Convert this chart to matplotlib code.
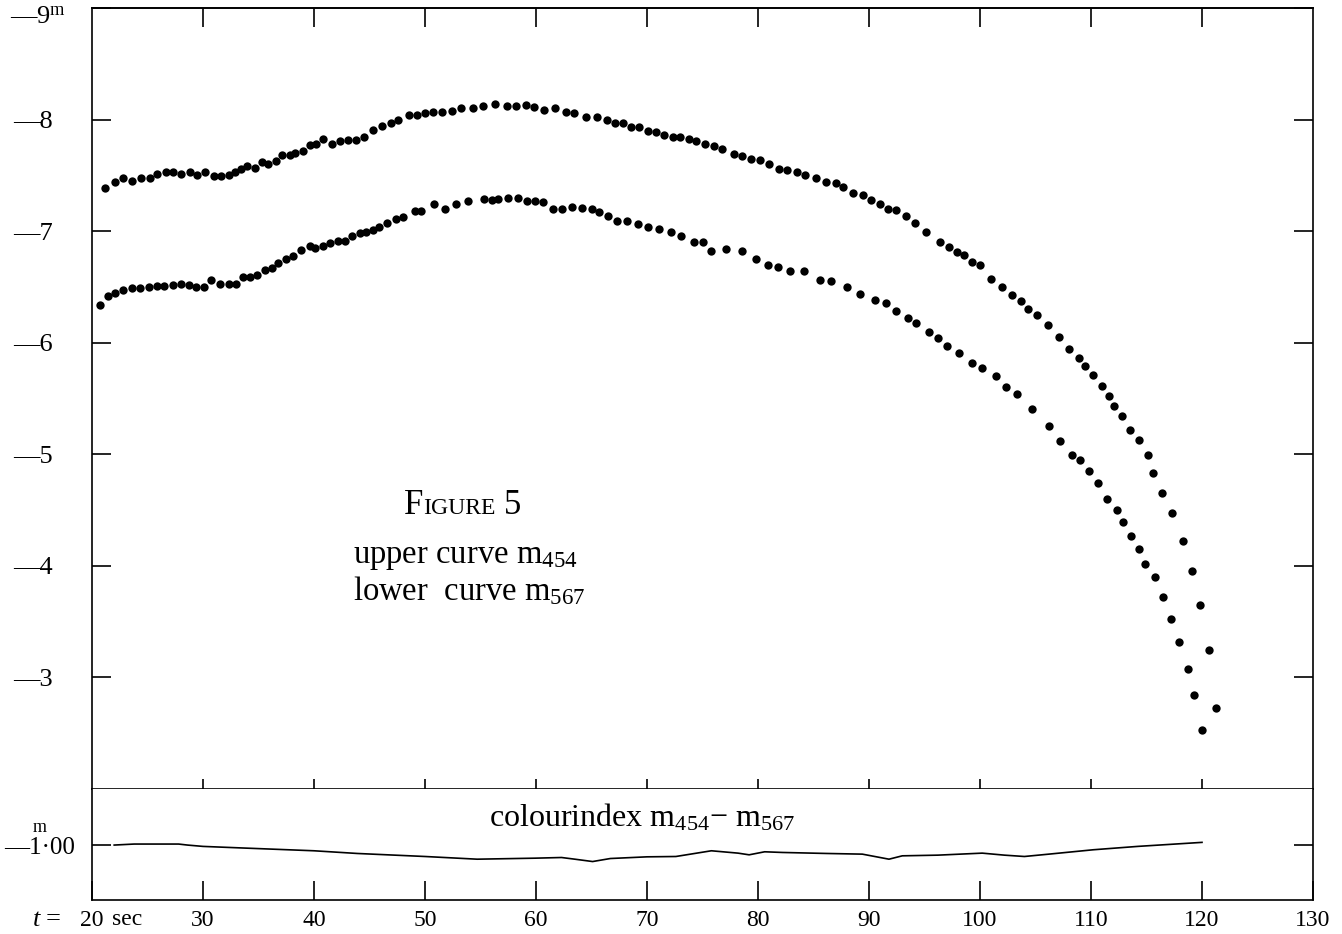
import numpy as np
import matplotlib
matplotlib.use("Agg")
import matplotlib.pyplot as plt

plt.rcParams['font.family'] = ['Liberation Serif', 'DejaVu Serif']
plt.rcParams['mathtext.fontset'] = 'custom'
plt.rcParams['mathtext.rm'] = 'Liberation Serif'
plt.rcParams['mathtext.it'] = 'Liberation Serif:italic'

#======================================= data ====================
# upper curve, m454 (time in sec, magnitude)
t_upper = [21.2, 22.1, 22.8, 23.6, 24.4, 25.2, 25.9, 26.7, 27.3, 28.0, 28.8, 29.5, 30.2,
           31.0, 31.6, 32.3, 32.9, 33.4, 34.0, 34.7, 35.3, 35.9, 36.6, 37.1, 37.8, 38.3,
           39.0, 39.6, 40.2, 40.8, 41.6, 42.3, 43.1, 43.8, 44.5, 45.3, 46.1, 46.9, 47.6,
           48.6, 49.3, 50.0, 50.7, 51.5, 52.4, 53.2, 54.3, 55.2, 56.3, 57.4, 58.2, 59.1,
           59.8, 60.7, 61.7, 62.7, 63.4, 64.5, 65.5, 66.4, 67.1, 67.8, 68.6, 69.3, 70.1,
           70.8, 71.5, 72.3, 73.0, 73.8, 74.4, 75.2, 76.0, 76.8, 77.8, 78.6, 79.4, 80.2,
           81.0, 81.9, 82.6, 83.5,
           84.2, 85.2, 86.1, 87.0, 87.7, 88.6, 89.5, 90.2, 91.0, 91.7, 92.4, 93.3, 94.1,
           95.1, 96.4, 97.2, 97.9, 98.6, 99.3, 100.0, 101.0, 102.0, 102.9, 103.7, 104.3,
           105.1, 106.1, 107.1, 108.0, 108.9, 109.5, 110.2, 111.0, 111.6, 112.1, 112.8,
           113.5, 114.3, 115.1, 115.6, 116.4, 117.3, 118.3, 119.1, 119.8, 120.6, 121.3]
m_upper = [-7.39, -7.44, -7.48, -7.45, -7.48, -7.48, -7.51, -7.53, -7.53, -7.51, -7.53, -7.50, -7.53,
           -7.49, -7.49, -7.50, -7.53, -7.56, -7.58, -7.57, -7.62, -7.60, -7.63, -7.68, -7.68, -7.70,
           -7.72, -7.77, -7.78, -7.83, -7.78, -7.81, -7.82, -7.82, -7.84, -7.91, -7.94, -7.97, -8.00,
           -8.04, -8.04, -8.06, -8.07, -8.07, -8.08, -8.10, -8.10, -8.12, -8.14, -8.12, -8.12, -8.13,
           -8.11, -8.09, -8.10, -8.07, -8.06, -8.02, -8.02, -8.00, -7.97, -7.97, -7.93, -7.93, -7.90,
           -7.89, -7.86, -7.84, -7.84, -7.83, -7.81, -7.78, -7.76, -7.74, -7.69, -7.67, -7.65, -7.64,
           -7.60, -7.56, -7.55, -7.53,
           -7.50, -7.48, -7.44, -7.43, -7.40, -7.34, -7.32, -7.28, -7.24, -7.20, -7.19, -7.14, -7.07,
           -6.99, -6.90, -6.86, -6.81, -6.79, -6.72, -6.70, -6.57, -6.50, -6.43, -6.37, -6.30,
           -6.25, -6.16, -6.05, -5.94, -5.86, -5.79, -5.71, -5.61, -5.52, -5.43, -5.34,
           -5.22, -5.13, -4.99, -4.83, -4.65, -4.47, -4.22, -3.95, -3.65, -3.25, -2.73]

# lower curve, m567
t_lower = [20.7, 21.4, 22.1, 22.8, 23.6, 24.3, 25.1, 25.9, 26.5, 27.3, 28.0, 28.7, 29.4,
           30.1, 30.7, 31.5, 32.3, 33.0, 33.6, 34.2, 34.9, 35.6, 36.2, 36.8, 37.5, 38.1,
           38.8, 39.6, 40.1, 40.8, 41.4, 42.2, 42.8, 43.4, 44.1, 44.7, 45.3,
           45.9, 46.6, 47.4, 48.0, 49.1, 49.6, 50.8, 51.8, 52.8, 53.9, 55.3, 56.0, 56.6,
           57.5, 58.4, 59.2, 59.9, 60.6, 61.5, 62.3, 63.2, 64.1, 65.0, 65.7, 66.5, 67.3,
           68.2, 69.2, 70.1, 71.1, 72.2, 73.1, 74.2, 75.0, 75.8, 77.1, 78.6, 79.8, 80.9,
           81.8, 82.9,
           84.1, 85.6, 86.6, 88.0, 89.2, 90.5, 91.5, 92.4, 93.5, 94.2, 95.4, 96.2, 97.0,
           98.1, 99.3, 100.2, 101.4, 102.3, 103.3,
           104.7, 106.2, 107.2, 108.3, 109.0, 109.8, 110.6, 111.4, 112.3, 112.9, 113.6,
           114.3, 114.9, 115.8, 116.5, 117.2, 117.9, 118.7, 119.3, 120.0]
m_lower = [-6.34, -6.42, -6.45, -6.47, -6.49, -6.49, -6.50, -6.51, -6.51, -6.52, -6.53, -6.52, -6.50,
           -6.50, -6.56, -6.53, -6.53, -6.53, -6.59, -6.59, -6.61, -6.65, -6.67, -6.71, -6.75, -6.78,
           -6.83, -6.87, -6.85, -6.87, -6.89, -6.91, -6.91, -6.96, -6.98, -6.99, -7.01,
           -7.04, -7.07, -7.11, -7.13, -7.18, -7.18, -7.24, -7.20, -7.24, -7.27, -7.29, -7.28, -7.29,
           -7.30, -7.30, -7.27, -7.27, -7.26, -7.20, -7.20, -7.22, -7.21, -7.20, -7.17, -7.14, -7.09,
           -7.09, -7.06, -7.04, -7.02, -6.99, -6.96, -6.90, -6.90, -6.82, -6.84, -6.82, -6.75, -6.70,
           -6.68, -6.64,
           -6.64, -6.56, -6.55, -6.50, -6.44, -6.38, -6.36, -6.28, -6.22, -6.18, -6.10, -6.04, -5.97,
           -5.91, -5.82, -5.77, -5.70, -5.60, -5.54,
           -5.41, -5.25, -5.12, -4.99, -4.95, -4.85, -4.74, -4.60, -4.50, -4.39, -4.27,
           -4.15, -4.02, -3.90, -3.72, -3.52, -3.32, -3.08, -2.84, -2.53]

# colour index m454 - m567
t_ci = [22.0, 23.8, 27.8, 28.6, 30.0, 33.8, 40.0, 43.9, 50.0, 54.7, 59.9, 62.3, 63.5, 65.1,
        66.7, 70.0, 72.6, 75.8, 78.2, 79.2, 80.6, 82.2, 86.2, 89.4, 91.8, 93.0, 96.2,
        100.2, 102.2, 104.0, 106.2, 110.2, 114.2, 120.0]
ci = [-1.000, -1.009, -1.009, -1.000, -0.988, -0.973, -0.949, -0.925, -0.898, -0.874, -0.883,
      -0.889, -0.874, -0.853, -0.880, -0.895, -0.898, -0.949, -0.928, -0.913, -0.940, -0.934,
      -0.925, -0.919, -0.874, -0.904, -0.910, -0.928, -0.910, -0.898, -0.919, -0.958, -0.988,
      -1.024]

mag_ticks = [-9, -8, -7, -6, -5, -4, -3]
mag_labels = ['', '—8', '—7', '—6', '—5', '—4', '—3']
t_ticks = [20, 30, 40, 50, 60, 70, 80, 90, 100, 110, 120, 130]
t_labels = ['20', '30', '40', '50', '60', '70', '80', '90', '100', '110', '120', '130']
#=======================================

W, H = 1342, 934
fig = plt.figure(figsize=(W / 100, H / 100), dpi=100)

x0, x1 = 92, 1313
ax = fig.add_axes([x0 / W, 1 - 789 / H, (x1 - x0) / W, (789 - 8) / H])
ax2 = fig.add_axes([x0 / W, 1 - 900 / H, (x1 - x0) / W, (900 - 789) / H])

lw = 1.2
tick_len = 14

# ---- magnitude curves
ax.plot(t_upper, m_upper, 'o', color='black', ms=6.0, mec='none')
ax.plot(t_lower, m_lower, 'o', color='black', ms=6.0, mec='none')
ax.set_xlim(20, 130)
ax.set_ylim(-2, -9)

ax.set_xticks(t_ticks[1:-1])
ax.tick_params(axis='x', bottom=True, top=False, direction='inout',
               length=tick_len, width=lw, labelbottom=False)
top = ax.secondary_xaxis('top')
top.set_xticks(t_ticks[1:-1])
top.tick_params(axis='x', direction='in', length=tick_len, width=lw, labeltop=False)
top.spines['top'].set_linewidth(lw)

ax.set_yticks(mag_ticks)
ax.set_yticklabels(mag_labels)
ax.tick_params(axis='y', left=True, right=True, direction='in', length=tick_len,
               width=lw, labelsize=19, pad=28)
for s in ax.spines.values():
    s.set_linewidth(lw)

# top label carries the magnitude unit, set a little below the corner
ax.annotate('—9$^{\\rm m}$', xy=(0, -9), xycoords=('axes fraction', 'data'),
            xytext=(-26, -10), textcoords='offset pixels', fontsize=19,
            ha='right', va='center')

ax.text(0.271, 0.352, 'F', transform=ax.transAxes, fontsize=25, ha='right', va='baseline')
ax.text(0.271, 0.352, 'IGURE', transform=ax.transAxes, fontsize=17, ha='left', va='baseline')
ax.text(0.337, 0.352, '5', transform=ax.transAxes, fontsize=25, ha='left', va='baseline')
ax.text(0.214, 0.289, 'upper curve m$_{454}$', transform=ax.transAxes, fontsize=23.5,
        ha='left', va='baseline')
ax.text(0.214, 0.242, 'lower  curve m$_{567}$', transform=ax.transAxes, fontsize=23.5,
        ha='left', va='baseline')

# ---- colour index strip
ax2.plot(t_ci, ci, color='black', lw=lw)
ax2.set_xlim(20, 130)
ax2.set_ylim(-0.51, -1.50)
ax2.set_xticks(t_ticks)
ax2.set_xticklabels(t_labels)
ax2.tick_params(axis='x', bottom=True, top=False, direction='in', length=tick_len,
                width=lw, labelsize=17, pad=7)
ax2.set_yticks([-1.0])
ax2.set_yticklabels(['—1·00'])
ax2.tick_params(axis='y', left=True, right=True, direction='in', length=tick_len,
                width=lw, labelsize=18, pad=12)
ax2.spines['top'].set_visible(False)
for s in ['left', 'right', 'bottom']:
    ax2.spines[s].set_linewidth(lw)

ax2.annotate('m', xy=(0, -1.0), xycoords=('axes fraction', 'data'), xytext=(-52, 9),
             textcoords='offset pixels', fontsize=13, ha='center', va='bottom')
ax2.annotate('$t$ =', xy=(20, 0), xycoords=('data', 'axes fraction'), xytext=(-30, -9),
             textcoords='offset pixels', fontsize=19, ha='right', va='top')
ax2.annotate('sec', xy=(20, 0), xycoords=('data', 'axes fraction'), xytext=(20, -9),
             textcoords='offset pixels', fontsize=17, ha='left', va='top')
ax2.text(0.325, 0.74, 'colourindex m$_{454}$− m$_{567}$', transform=ax2.transAxes,
         fontsize=23, ha='left', va='center')

fig.savefig('out.png', dpi=100)
